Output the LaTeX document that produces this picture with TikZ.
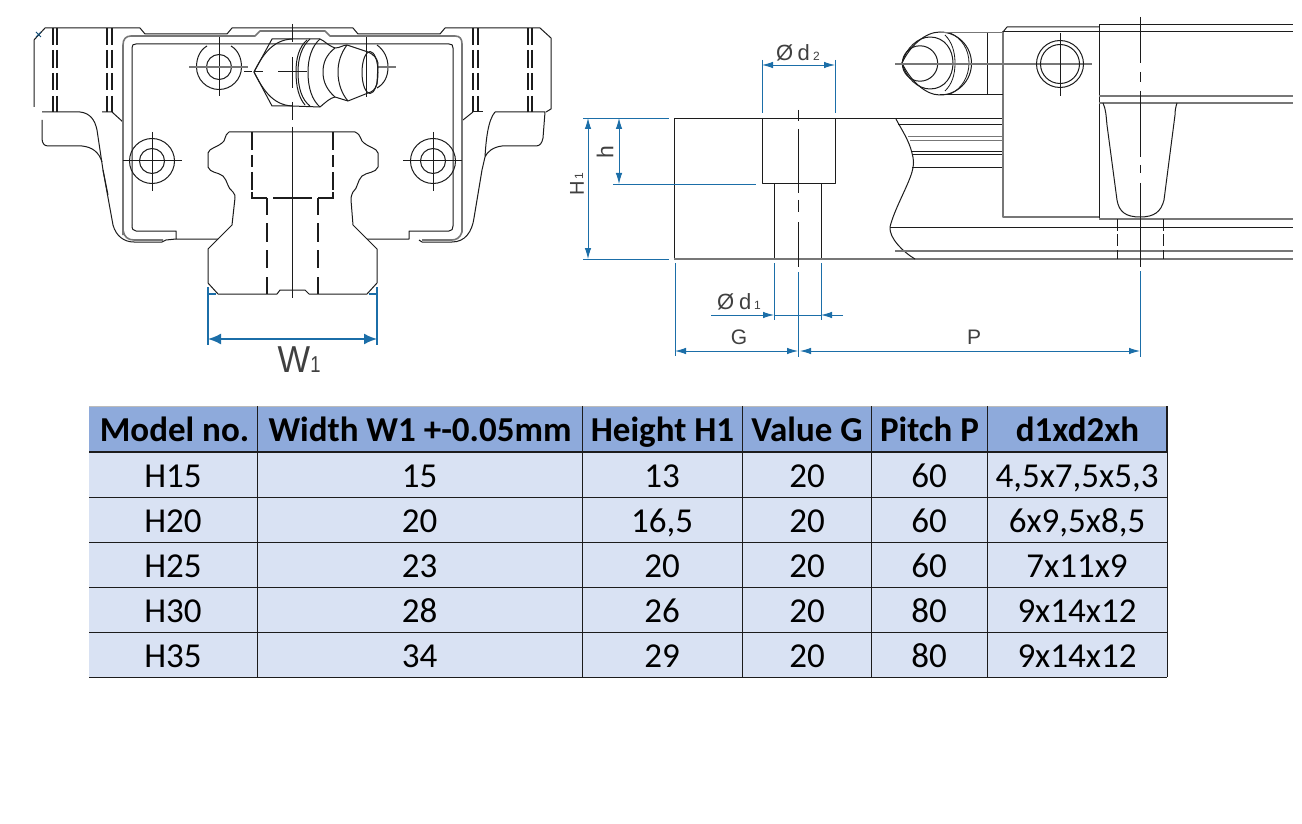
\documentclass[tikz,border=0pt]{standalone}
\usepackage{fontspec}
\setmainfont{Liberation Sans}
\newfontfamily\tabfont{Carlito}
\usetikzlibrary{arrows.meta}
\definecolor{dimblue}{HTML}{1B6EA8}
\definecolor{ink}{HTML}{1C1C1C}
\definecolor{framegray}{HTML}{777777}
\definecolor{labelgray}{HTML}{404040}
\definecolor{headfill}{HTML}{8EAADB}
\definecolor{cellfill}{HTML}{D9E2F3}
\tikzset{
  ln/.style={draw=ink,line width=1pt,line join=round},
  thn/.style={draw=ink,line width=0.8pt,line join=round},
  gr/.style={draw=framegray,line width=1.6pt,line join=round},
  grt/.style={draw=framegray,line width=1pt},
  heavy/.style={draw=ink,line width=1.9pt},
  dimln/.style={draw=dimblue,line width=0.9pt},
  dimar/.style={draw=dimblue,line width=0.9pt,{Latex[length=11pt,width=6.500pt]}-{Latex[length=11pt,width=6.500pt]}},
  dimend/.style={draw=dimblue,line width=0.9pt,-{Latex[length=11pt,width=6.500pt]}},
  wdim/.style={draw=dimblue,line width=1.7pt},
  lab/.style={text=labelgray,inner sep=0pt,font=\fontsize{22}{24}\selectfont},
  subl/.style={text=labelgray,inner sep=0pt,font=\fontsize{12}{14}\selectfont},
  headc/.style={inner sep=0pt,anchor=base,text=black,font=\tabfont\bfseries\fontsize{35}{40}\selectfont},
  bodyc/.style={inner sep=0pt,anchor=base,text=black,font=\tabfont\fontsize{35}{40}\selectfont},
  tabline/.style={draw=ink,line width=0.95pt},
}
\begin{document}
\begin{tikzpicture}[x=1pt,y=-1pt]
\useasboundingbox (0,0) rectangle (1302,824);
\fill[white] (0,0) rectangle (1302,824);

%%% FRONT VIEW
% outer block top
\draw[ln] (34,107) -- (34,40) -- (45,28) -- (140,28) -- (145,34) -- (227,34) -- (232,28) -- (353,28) -- (358,34) -- (440,34) -- (445,28) -- (540,28) -- (551,38) -- (551,109) -- (546,112);
\draw[ln] (42,112) -- (80,112) .. controls (90,113) and (95,120) .. (97,130) -- (103,170) -- (108,195);
\draw[ln] (102,112) -- (112,112) -- (123,122);
\draw[ln] (473,112) -- (463,120);
\draw[ln] (473,112) -- (483,112);
\draw[ln] (42,120) -- (42,138) .. controls (42,143) and (44,146) .. (48,146) -- (82,146) .. controls (92,147) and (99,152) .. (102,162);
\draw[ln] (495,112) -- (545,112) -- (543,138) .. controls (542,143) and (540,146) .. (536,146) -- (502,146) .. controls (493,147) and (487,152) .. (485,157) .. controls (486,140) and (488,120) .. (495,112);
\draw[ln] (485,157) -- (482,170) -- (474,218) .. controls (472,232) and (465,242) .. (452,242) -- (422,242) -- (419,240);
\draw[ln] (103,170) -- (113,225) .. controls (116,236) and (124,242) .. (134,242) -- (162,242) -- (166,240) -- (176,239);
% ear bolts
\foreach \xx in {53,57,107,112,473,478,528,532} {
  \draw[heavy] (\xx,28) -- (\xx,45) (\xx,50) -- (\xx,68) (\xx,73) -- (\xx,90) (\xx,96) -- (\xx,112);
}
% carriage frame
\draw[gr] (123,235) -- (123,45) .. controls (123,39) and (126,36) .. (131,36) -- (255,36) -- (260,31) -- (325,31) -- (330,36) -- (455,36) .. controls (460,36) and (462,39) .. (462,44) -- (462,232) .. controls (460,238) and (456,240) .. (452,240) -- (422,240);
\draw[gr] (123,230) .. controls (124,237) and (128,240) .. (134,240) -- (163,240);
\draw[ln] (132,225) -- (132,48) .. controls (132,45) and (133,44) .. (136,44) -- (449,44) .. controls (452,44) and (453,45) .. (453,48) -- (453,226) .. controls (453,229) and (452,231) .. (449,231) -- (409,231) -- (409,239) -- (367,239);
\draw[ln] (132,225) .. controls (132,229) and (133,231) .. (136,231) -- (176,231) -- (176,239) -- (218,239);
% mounting holes
\draw[ln] (207,46) .. controls (200,50) and (196.500,58) .. (196.500,67) .. controls (196.500,79.400) and (206.600,89.500) .. (219,89.500) .. controls (231.400,89.500) and (241.500,79.400) .. (241.500,67) .. controls (241.500,58) and (238,50) .. (231,46);
\draw[ln] (219,67) circle[radius=12.500];
\draw[ln] (219,37) -- (219,96);
\draw[gr] (189,67) -- (248,67);
\draw[ln] (152,161) circle[radius=22.500];
\draw[ln] (152,161) circle[radius=12.500];
\draw[ln] (123,161) -- (182,161) (152,132) -- (152,191);
\draw[ln] (433,161) circle[radius=22.500];
\draw[ln] (433,161) circle[radius=12.500];
\draw[ln] (403,161) -- (462,161) (433,132) -- (433,191);
\draw[ln] (377,45) .. controls (384,50) and (388,58) .. (388,67) .. controls (388,77) and (384,84) .. (377,88);
\draw[ln] (366,37) -- (366,97);
\draw[gr] (377,67) -- (396,67);
% grease nipple
\draw[ln] (292,39) -- (272,39) -- (254,72) -- (272,106) -- (292,106);
\draw[ln] (292,39) .. controls (272,40) and (262,56) .. (254,72) .. controls (262,88) and (272,105) .. (292,106);
\draw[ln] (292,39) -- (320,39) .. controls (325,41) and (327,45) .. (335,48) .. controls (340,48) and (343,45) .. (347,45) -- (368,52) .. controls (373,54) and (377,58) .. (378,63) -- (377,84) .. controls (375,90) and (372,92) .. (368,93) -- (348,101) -- (335,97) .. controls (330,98) and (326,102) .. (320,107) -- (292,106);
\draw[ln] (310,39) .. controls (302,46) and (298,58) .. (298,72) .. controls (298,88) and (302,100) .. (310,106);
\draw[ln] (307,40) .. controls (299,47) and (296,58) .. (296,72) .. controls (296,87) and (299,98) .. (305,105);
\draw[ln] (320,39) .. controls (312,46) and (308,58) .. (308,72) .. controls (308,88) and (312,100) .. (320,107);
\draw[ln] (335,48) .. controls (326,55) and (323,63) .. (323,72) .. controls (323,82) and (327,90) .. (335,97);
\draw[ln] (347,45) .. controls (341,53) and (338,62) .. (338,72) .. controls (338,84) and (342,94) .. (348,101);
\draw[ln] (370,72.500) ellipse[x radius=8,y radius=21];
\draw[ln] (292,24) -- (292,42) (292,57) -- (292,88) (292,102) -- (292,120);
\draw[ln] (244,72) -- (252,72) (254,72) -- (263,72) (278,72) -- (307,72);
% rail
\draw[ln] (229,132) .. controls (224,135) and (226,141) .. (222,143) .. controls (218,147) and (209,148) .. (208,153) -- (208,167) .. controls (210,173) and (218,172) .. (223,176) .. controls (228,181) and (227,188) .. (233,192) .. controls (235,194) and (235,196) .. (235,198) -- (232,225) -- (208,249) -- (208,283) -- (218,294) -- (277,294) -- (280,290) -- (305,290) -- (309,294) -- (367,294) -- (377,283) -- (377,249) -- (353,225) -- (351,200) .. controls (351,196) and (352,194) .. (353,192) .. controls (358,188) and (357,181) .. (362,176) .. controls (367,172) and (376,173) .. (378,167) -- (378,153) .. controls (377,148) and (368,147) .. (364,143) .. controls (360,141) and (362,135) .. (355,132) -- cycle;
\draw[heavy,line width=1.4pt] (252,132) -- (252,150) (252,155) -- (252,167) (252,172) -- (252,190) (252,192) -- (252,198) -- (267,198) (273,198) -- (312,198) (318,198) -- (333,198) -- (333,192) (333,190) -- (333,172) (333,167) -- (333,155) (333,150) -- (333,132);
\foreach \xx in {267,318} {
  \draw[heavy,line width=1.4pt] (\xx,198) -- (\xx,215) (\xx,223) -- (\xx,242) (\xx,250) -- (\xx,268) (\xx,277) -- (\xx,294);
}
\draw[thn] (292,127) -- (292,298);
% W1 dimension
\draw[wdim] (208,287) -- (208,345) (377,287) -- (377,345);
\draw[wdim] (208,294) -- (216,294) (369,294) -- (377,294);
\draw[wdim,{Latex[length=13pt,width=11pt]}-{Latex[length=13pt,width=11pt]}] (208,339) -- (377,339);
\node[inner sep=0pt,anchor=base,xscale=0.92,text=labelgray,font=\fontsize{37.500}{40}\selectfont] (wlabel) at (294,372) {W};
\node[inner sep=0pt,anchor=base,xscale=0.8,text=labelgray,font=\fontsize{23}{26}\selectfont] (wsub) at (315.500,372) {1};
% speck
\draw[draw=dimblue!70!black,line width=0.8pt] (36,32) -- (41,37) (36,37) -- (41,32);

%%% SIDE VIEW
% bore section
\draw[ln] (1003,118.500) -- (674,118.500) -- (674,259);
\draw[ln] (762,118) -- (762,184) -- (835,184) -- (835,118);
\draw[ln] (774,184) -- (774,259) (821,184) -- (821,259);
\draw[gr,line width=1.3pt] (674,259) -- (1293,259);
\draw[ln] (798,110) -- (798,121) (798,129) -- (798,193) (798,200) -- (798,212) (798,222) -- (798,267);
% break line
\draw[ln] (896,119) .. controls (900,127) and (909,140) .. (912,153) .. controls (914,160) and (914,165) .. (912,172) .. controls (908,186) and (894,210) .. (890,227) .. controls (889,238) and (903,252) .. (915,259);
\draw[thn] (898,124) -- (1003,124);
\draw[grt] (908,137) -- (1003,137) (910,141) -- (1003,141);
\draw[ln] (912,152) -- (1003,152) (913,155) -- (1003,155) (912,168) -- (1003,168);
\draw[ln] (890,227) -- (1293,227);
\draw[gr,line width=1.2pt] (895,251) -- (1293,251);
% end block
\draw[gr,line width=1.2pt] (1003,31) -- (1003,217) -- (1099,217);
\draw[ln] (1003,32) -- (1007,27) -- (1099,27);
\draw[ln] (1003,32) -- (1293,32);
\draw[ln] (1099,219) -- (1099,25) -- (1293,25);
\draw[gr,line width=1.2pt] (1099,219) -- (1293,219);
\draw[gr,line width=1.2pt] (1099,96) -- (1293,96) (1099,103) -- (1293,103);
\draw[ln] (1103,103) .. controls (1106,110) and (1106,115) .. (1107,125) -- (1117,200) .. controls (1119,212) and (1126,217) .. (1140,217) .. controls (1154,217) and (1161,212) .. (1164,200) -- (1175,115) .. controls (1175,110) and (1176,106) .. (1177,103);
% bores below end block
\foreach \xx in {1117,1163} {
  \draw[thn] (\xx,219) -- (\xx,231) (\xx,234) -- (\xx,246) (\xx,250) -- (\xx,259);
}
\draw[ln] (1140,17) -- (1140,63) (1140,72) -- (1140,82) (1140,91) -- (1140,157) (1140,165) -- (1140,173) (1140,183) -- (1140,267);
% side nipple
\draw[ln] (902,63) .. controls (910,46) and (925,32) .. (940,32) .. controls (957.400,32) and (971.500,46.100) .. (971.500,63.500) .. controls (971.500,80.900) and (957.400,95) .. (940,95) .. controls (925,95) and (910,80) .. (902,63);
\draw[ln] (902,63) .. controls (906,48) and (918,37) .. (930,37) .. controls (945,37) and (953,50) .. (953,63) .. controls (953,76) and (945,89) .. (930,89) .. controls (918,89) and (906,78) .. (902,63);
\draw[ln] (920,63.500) circle[radius=17.700];
\draw[thn] (950,33) .. controls (962,38) and (969,50) .. (969,63) .. controls (969,76) and (962,89) .. (950,94);
\draw[thn] (945,35) .. controls (952,42) and (955,52) .. (955,63) .. controls (955,75) and (952,84) .. (945,91);
\draw[grt] (940,33) -- (1003,33);
\draw[ln] (940,95) -- (1003,95);
\draw[ln] (987,33) -- (987,95);
\draw[gr] (895,64) -- (1092,64);
\draw[ln] (1060,64) circle[radius=23.500];
\draw[ln] (1060,64) circle[radius=19.500];
\draw[ln] (1060,33) -- (1060,96);
% dimensions
\draw[dimln] (762,60) -- (762,113) (835,60) -- (835,113);
\draw[dimar] (762,65) -- (835,65);
\draw[dimln] (583,118) -- (669,118) (583,259) -- (669,259) (613,184) -- (756,184);
\draw[dimar] (588,118) -- (588,259);
\draw[dimar] (619,118) -- (619,184);
\draw[dimln] (675,263) -- (675,356) (774,263) -- (774,320) (821,263) -- (821,320) (798,272) -- (798,357);
\draw[dimln] (774,315) -- (821,315);
\draw[dimend] (711,315) -- (774,315);
\draw[dimend] (843,315) -- (821,315);
\draw[dimar] (675,351) -- (798,351);
\draw[dimar] (800,351) -- (1140,351);
\draw[dimln] (1140,271) -- (1140,357);
% side labels
\node[lab,anchor=west] (d2sym) at (776,53) {Ø};
\node[lab,anchor=west] (d2let) at (797.500,53) {d};
\node[subl,anchor=west] (d2sub) at (813,56) {2};
\node[lab,anchor=west] (d1sym) at (717,302) {Ø};
\node[lab,anchor=west] (d1let) at (739,302) {d};
\node[subl,anchor=west] (d1sub) at (754,305) {1};
\node[lab,rotate=90,font=\fontsize{23}{26}\selectfont] (hlab) at (605,152) {h};
\node[lab,rotate=90,font=\fontsize{20}{22}\selectfont] (h1lab) at (577,188) {H};
\node[subl,rotate=90] (h1sub) at (579,176) {1};
\node[lab,font=\fontsize{21}{24}\selectfont] (glab) at (739,337) {G};
\node[lab,font=\fontsize{21}{24}\selectfont] (plab) at (974,337) {P};

%%% TABLE
\fill[headfill] (89,406) rectangle (1167,452);
\fill[cellfill] (89,452) rectangle (1167,677);
\draw[draw=framegray!50,line width=0.8pt] (89,406) -- (1167,406);
\foreach \yy in {497,542,587,632,677} { \draw[tabline] (89,\yy) -- (1167,\yy); }
\draw[tabline,line width=2.2pt] (89,452) -- (1168,452);
\foreach \xx in {257,582,742,871,987} { \draw[tabline] (\xx,406) -- (\xx,677); }
\draw[tabline] (1167,452) -- (1167,677);
\draw[tabline,line width=2pt] (1167,406) -- (1167,452);
\node[headc] (h1) at (174.500,441) {Model no.};
\node[headc] (h2) at (420,441) {Width W1 +-0.05mm};
\node[headc] (h3) at (662.500,441) {Height H1};
\node[headc] (h4) at (807,441) {Value G};
\node[headc] (h5) at (929.500,441) {Pitch P};
\node[headc] (h6) at (1077.500,441) {d1xd2xh};
\newcommand{\tabrow}[8]{%
  \node[bodyc] (m#1) at (173,#2) {#3};
  \node[bodyc] (w#1) at (419.500,#2) {#4};
  \node[bodyc] (t#1) at (662,#2) {#5};
  \node[bodyc] (g#1) at (807,#2) {#6};
  \node[bodyc] (p#1) at (929,#2) {#7};
  \node[bodyc] (d#1) at (1077,#2) {#8};
}
\tabrow{a}{487}{H15}{15}{13}{20}{60}{4,5x7,5x5,3}
\tabrow{b}{532}{H20}{20}{16,5}{20}{60}{6x9,5x8,5}
\tabrow{c}{577}{H25}{23}{20}{20}{60}{7x11x9}
\tabrow{d}{622}{H30}{28}{26}{20}{80}{9x14x12}
\tabrow{e}{667}{H35}{34}{29}{20}{80}{9x14x12}
\end{tikzpicture}
\end{document}
